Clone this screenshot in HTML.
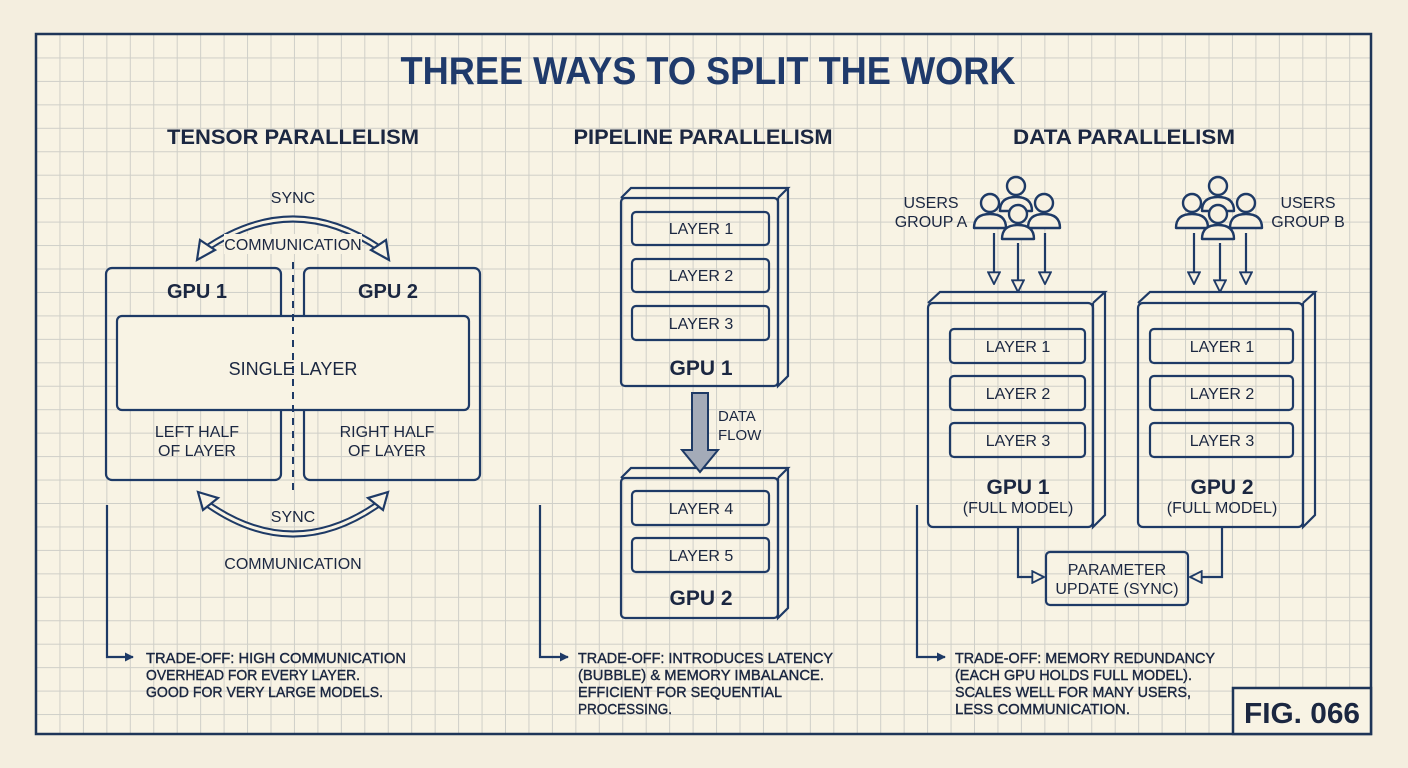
<!DOCTYPE html>
<html><head><meta charset="utf-8"><style>
html,body{margin:0;padding:0;background:#f4eedf;}
svg{display:block}
text{font-family:"Liberation Sans",sans-serif;fill:#1b2741}
.t{font-size:16px;text-anchor:middle}
.b{font-weight:bold}
</style></head><body>
<svg width="1408" height="768" viewBox="0 0 1408 768" xmlns="http://www.w3.org/2000/svg">
<defs>
<pattern id="g" x="36" y="34" width="23.45" height="23.45" patternUnits="userSpaceOnUse">
<path d="M0 0.5H23.45M0.5 0V23.45" stroke="#cfcfc8" stroke-width="1" fill="none"/>
</pattern>
<marker id="ah" viewBox="0 0 10 10" refX="9" refY="5" markerWidth="9" markerHeight="9" orient="auto" markerUnits="userSpaceOnUse"><path d="M0 0L10 5L0 10z" fill="#1e3a66"/></marker>
<marker id="oh" viewBox="0 0 12 12" refX="11" refY="6" markerWidth="14" markerHeight="14" orient="auto" markerUnits="userSpaceOnUse"><path d="M1 1L11 6L1 11z" fill="#f7f1e2" stroke="#1e3a66" stroke-width="1.6"/></marker>
<g id="user"><circle cx="0" cy="-11" r="9" fill="#f7f1e2" stroke="#1e3a66" stroke-width="2.4"/><path d="M-16 14Q-16 0 0 0Q16 0 16 14Z" fill="#f7f1e2" stroke="#1e3a66" stroke-width="2.4" stroke-linejoin="round"/></g>
</defs>
<rect width="1408" height="768" fill="#f4eedf"/>
<rect x="36" y="34" width="1335" height="700" fill="#f8f3e4"/>
<rect x="36" y="34" width="1335" height="700" fill="url(#g)"/>
<rect x="36" y="34" width="1335" height="700" fill="none" stroke="#1e3558" stroke-width="2.5"/>

<text x="708" y="84" class="b" style="font-size:39px;fill:#1f3a6b;text-anchor:middle" textLength="615" lengthAdjust="spacingAndGlyphs">THREE WAYS TO SPLIT THE WORK</text>
<text x="293" y="144" class="b" style="font-size:21px;text-anchor:middle" textLength="252" lengthAdjust="spacingAndGlyphs">TENSOR PARALLELISM</text>
<text x="703" y="144" class="b" style="font-size:21px;text-anchor:middle" textLength="259" lengthAdjust="spacingAndGlyphs">PIPELINE PARALLELISM</text>
<text x="1124" y="144" class="b" style="font-size:21px;text-anchor:middle" textLength="222" lengthAdjust="spacingAndGlyphs">DATA PARALLELISM</text>

<g fill="none" stroke="#1e3a66" stroke-width="2.2">
<rect x="106" y="268" width="175" height="212" rx="6"/>
<rect x="304" y="268" width="176" height="212" rx="6"/>
<rect x="117" y="316" width="352" height="94" rx="5" fill="#f8f3e4"/>
<path d="M293 262V492" stroke-dasharray="7,6" stroke-width="2"/>
<path d="M204 250Q293 188 382 250" stroke-width="7"/>
<path d="M204 250Q293 188 382 250" stroke="#f8f3e4" stroke-width="3"/>
<path d="M197 260L200 240L215 250Z M389 260L386 240L371 250Z" fill="#f8f3e4"/>
<path d="M206 503Q293 565 380 503" stroke-width="7"/>
<path d="M206 503Q293 565 380 503" stroke="#f8f3e4" stroke-width="3"/>
<path d="M198 492L218 498L203 510Z M388 492L368 498L383 510Z" fill="#f8f3e4"/>
<path d="M107 505V657H133" marker-end="url(#ah)"/>
<path d="M621 198L631 188H788L778 198M778 198V386L788 376V188" />
<rect x="621" y="198" width="157" height="188" rx="4"/>
<rect x="632" y="212" width="137" height="33" rx="4"/>
<rect x="632" y="259" width="137" height="33" rx="4"/>
<rect x="632" y="306" width="137" height="34" rx="4"/>
<path d="M621 478L631 468H788L778 478M778 478V618L788 608V468"/>
<rect x="621" y="478" width="157" height="140" rx="4"/>
<rect x="632" y="491" width="137" height="34" rx="4"/>
<rect x="632" y="538" width="137" height="34" rx="4"/>
<path d="M692 393H708V450H718L700 472L682 450H692Z" fill="#a4abb8" stroke-width="2"/>
<path d="M540 505V657H568" marker-end="url(#ah)"/>
<path d="M928 303L940 292H1105L1093 303M1093 303V527L1105 515V292"/>
<rect x="928" y="303" width="165" height="224" rx="5"/>
<rect x="950" y="329" width="135" height="34" rx="4"/>
<rect x="950" y="376" width="135" height="34" rx="4"/>
<rect x="950" y="423" width="135" height="34" rx="4"/>
<path d="M1138 303L1150 292H1315L1303 303M1303 303V527L1315 515V292"/>
<rect x="1138" y="303" width="165" height="224" rx="5"/>
<rect x="1150" y="329" width="143" height="34" rx="4"/>
<rect x="1150" y="376" width="143" height="34" rx="4"/>
<rect x="1150" y="423" width="143" height="34" rx="4"/>
<rect x="1046" y="552" width="142" height="53" rx="4"/>
<path d="M1018 527V577H1044" marker-end="url(#oh)"/>
<path d="M1222 527V577H1190" marker-end="url(#oh)"/>
<path d="M994 233V284" marker-end="url(#oh)"/>
<path d="M1018 243V292" marker-end="url(#oh)"/>
<path d="M1045 233V284" marker-end="url(#oh)"/>
<path d="M1194 233V284" marker-end="url(#oh)"/>
<path d="M1220 243V292" marker-end="url(#oh)"/>
<path d="M1246 233V284" marker-end="url(#oh)"/>
<path d="M917 505V657H945" marker-end="url(#ah)"/>
</g>
<use href="#user" x="1016" y="197"/><use href="#user" x="990" y="214"/><use href="#user" x="1044" y="214"/><use href="#user" x="1018" y="225"/>
<use href="#user" x="1218" y="197"/><use href="#user" x="1192" y="214"/><use href="#user" x="1246" y="214"/><use href="#user" x="1218" y="225"/>

<text x="293" y="203" class="t">SYNC</text>
<rect x="224" y="234" width="138" height="20" fill="#f8f3e4"/>
<text x="293" y="250" class="t">COMMUNICATION</text>
<text x="197" y="298" class="t b" style="font-size:20px">GPU 1</text>
<text x="388" y="298" class="t b" style="font-size:20px">GPU 2</text>
<text x="293" y="375" class="t" style="font-size:18px">SINGLE LAYER</text>
<text x="197" y="437" class="t">LEFT HALF</text><text x="197" y="456" class="t">OF LAYER</text>
<text x="387" y="437" class="t">RIGHT HALF</text><text x="387" y="456" class="t">OF LAYER</text>
<text x="293" y="522" class="t">SYNC</text>
<text x="293" y="569" class="t">COMMUNICATION</text>
<text x="701" y="234" class="t">LAYER 1</text>
<text x="701" y="281" class="t">LAYER 2</text>
<text x="701" y="329" class="t">LAYER 3</text>
<text x="701" y="375" class="t b" style="font-size:21px">GPU 1</text>
<text x="718" y="421" style="font-size:15px">DATA</text>
<text x="718" y="440" style="font-size:15px">FLOW</text>
<text x="701" y="514" class="t">LAYER 4</text>
<text x="701" y="561" class="t">LAYER 5</text>
<text x="701" y="605" class="t b" style="font-size:21px">GPU 2</text>
<text x="931" y="208" class="t">USERS</text><text x="931" y="227" class="t">GROUP A</text>
<text x="1308" y="208" class="t">USERS</text><text x="1308" y="227" class="t">GROUP B</text>
<text x="1018" y="352" class="t">LAYER 1</text>
<text x="1018" y="399" class="t">LAYER 2</text>
<text x="1018" y="446" class="t">LAYER 3</text>
<text x="1018" y="494" class="t b" style="font-size:21px">GPU 1</text>
<text x="1018" y="513" class="t">(FULL MODEL)</text>
<text x="1222" y="352" class="t">LAYER 1</text>
<text x="1222" y="399" class="t">LAYER 2</text>
<text x="1222" y="446" class="t">LAYER 3</text>
<text x="1222" y="494" class="t b" style="font-size:21px">GPU 2</text>
<text x="1222" y="513" class="t">(FULL MODEL)</text>
<text x="1117" y="575" class="t">PARAMETER</text>
<text x="1117" y="594" class="t">UPDATE (SYNC)</text>

<g style="font-size:15px;stroke:#1b2741;stroke-width:0.4">
<text x="146" y="663" textLength="260" lengthAdjust="spacingAndGlyphs">TRADE-OFF: HIGH COMMUNICATION</text>
<text x="146" y="680" textLength="214" lengthAdjust="spacingAndGlyphs">OVERHEAD FOR EVERY LAYER.</text>
<text x="146" y="697" textLength="237" lengthAdjust="spacingAndGlyphs">GOOD FOR VERY LARGE MODELS.</text>
<text x="578" y="663" textLength="255" lengthAdjust="spacingAndGlyphs">TRADE-OFF: INTRODUCES LATENCY</text>
<text x="578" y="680" textLength="246" lengthAdjust="spacingAndGlyphs">(BUBBLE) &amp; MEMORY IMBALANCE.</text>
<text x="578" y="697" textLength="204" lengthAdjust="spacingAndGlyphs">EFFICIENT FOR SEQUENTIAL</text>
<text x="578" y="714" textLength="94" lengthAdjust="spacingAndGlyphs">PROCESSING.</text>
<text x="955" y="663" textLength="260" lengthAdjust="spacingAndGlyphs">TRADE-OFF: MEMORY REDUNDANCY</text>
<text x="955" y="680" textLength="237" lengthAdjust="spacingAndGlyphs">(EACH GPU HOLDS FULL MODEL).</text>
<text x="955" y="697" textLength="236" lengthAdjust="spacingAndGlyphs">SCALES WELL FOR MANY USERS,</text>
<text x="955" y="714" textLength="175" lengthAdjust="spacingAndGlyphs">LESS COMMUNICATION.</text>
</g>
<rect x="1233" y="688" width="138" height="46" fill="#f8f3e4" stroke="#1e3558" stroke-width="2.5"/>
<text x="1302" y="723" class="t b" style="font-size:29px" textLength="116" lengthAdjust="spacingAndGlyphs">FIG. 066</text>
</svg>
</body></html>
